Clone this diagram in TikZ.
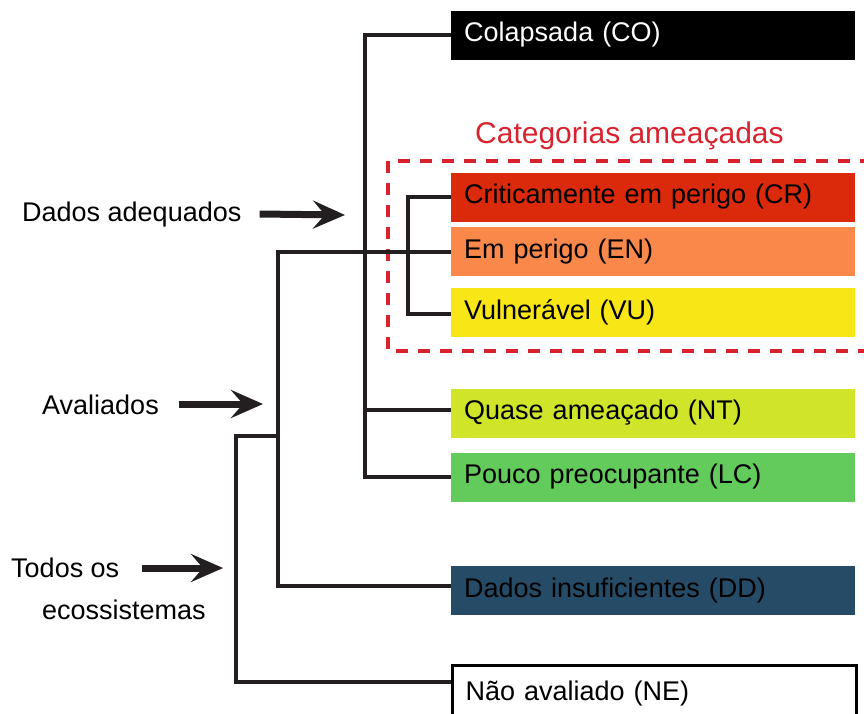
\documentclass[tikz,border=0pt]{standalone}
\usepackage{fontspec}
\setmainfont{Liberation Sans}
\usetikzlibrary{arrows.meta,calc,positioning}

\definecolor{colCR}{HTML}{DA290B}
\definecolor{colEN}{HTML}{FA884B}
\definecolor{colVU}{HTML}{F8E616}
\definecolor{colNT}{HTML}{D0E42A}
\definecolor{colLC}{HTML}{63CA5C}
\definecolor{colDD}{HTML}{264B66}
\definecolor{threat}{HTML}{D8232F}
\definecolor{ink}{HTML}{231F20}

\begin{document}
\begin{tikzpicture}[
    x = 1pt, y = -1pt,
    font = \fontsize{27}{32}\selectfont
  ]

  \useasboundingbox (0,0) rectangle (864,713);

  \tikzstyle {catbox} = [anchor = west, minimum height = 49pt, text width = 378pt, inner xsep = 13pt, inner ysep = 0, align = left]
  \tikzstyle {lbl} = [anchor = west, inner sep = 0, text = black]
  \tikzstyle {tree} = [draw = ink, line width = 4pt]
  \tikzstyle {ptr} = [draw = ink, line width = 7pt, -{Stealth[length=32pt, width=28pt, inset=12pt]}]

  \node [catbox, fill = black, text = white] (co) at (451,35) {Colapsada (CO)};
  \node [catbox, fill = colCR] (cr) at (451,197) {Criticamente em perigo (CR)};
  \node [catbox, fill = colEN] (en) at (451,251.5) {Em perigo (EN)};
  \node [catbox, fill = colVU] (vu) at (451,312) {Vulnerável (VU)};
  \node [catbox, fill = colNT] (nt) at (451,413) {Quase ameaçado (NT)};
  \node [catbox, fill = colLC] (lc) at (451,477) {Pouco preocupante (LC)};
  \node [catbox, fill = colDD] (dd) at (451,590.5) {Dados insuficientes (DD)};
  \node [catbox, draw = black, line width = 3pt, fill = white, minimum height = 56pt] (ne) at (451,693) {Não avaliado (NE)};

  \node [lbl, text = threat, font = \fontsize{30}{36}\selectfont] (hdr) at (475,136) {Categorias ameaçadas};
  \draw [threat, line width = 3.5pt, dash pattern = on 12pt off 10pt] (388,161) rectangle (880,351);

  \node [lbl] (ade) at (22,215) {Dados adequados};
  \node [lbl] (ava) at (42,405) {Avaliados};
  \node [lbl] (tod) at (11,568) {Todos os};
  \node [lbl] (eco) at (42,610) {ecossistemas};

  \coordinate (ad) at (365,251);
  \coordinate (ev) at (278,436);
  \coordinate (all) at (236,568);
  \coordinate (ntin) at ($(nt.west) + (0,-3)$);
  \coordinate (adtip) at (345,215);
  \coordinate (evtip) at (263,404);
  \coordinate (alltip) at (223,568);

  % adequate data
  \draw [tree] (co.west) -| (ad) |- (lc.west);
  \draw [tree] (ad |- ntin) -- (ntin);
  % threatened
  \draw [tree] (cr.west) -| ($(vu.west) + (-43,2)$) -- ($(vu.west) + (0,2)$);
  % evaluated
  \draw [tree] (en.west) -| (ev) |- ($(dd.west) + (0,-5)$);
  \draw [tree] (ev) -| (all) |- ($(ne.west) + (0,-11)$);

  \draw [ptr] ($(ade.east) + (18,-1)$) -- (adtip);
  \draw [ptr] ($(ava.east) + (20,-1)$) -- (evtip);
  \draw [ptr] ($(tod.east) + (23,0)$) -- (alltip);
\end{tikzpicture}
\end{document}
